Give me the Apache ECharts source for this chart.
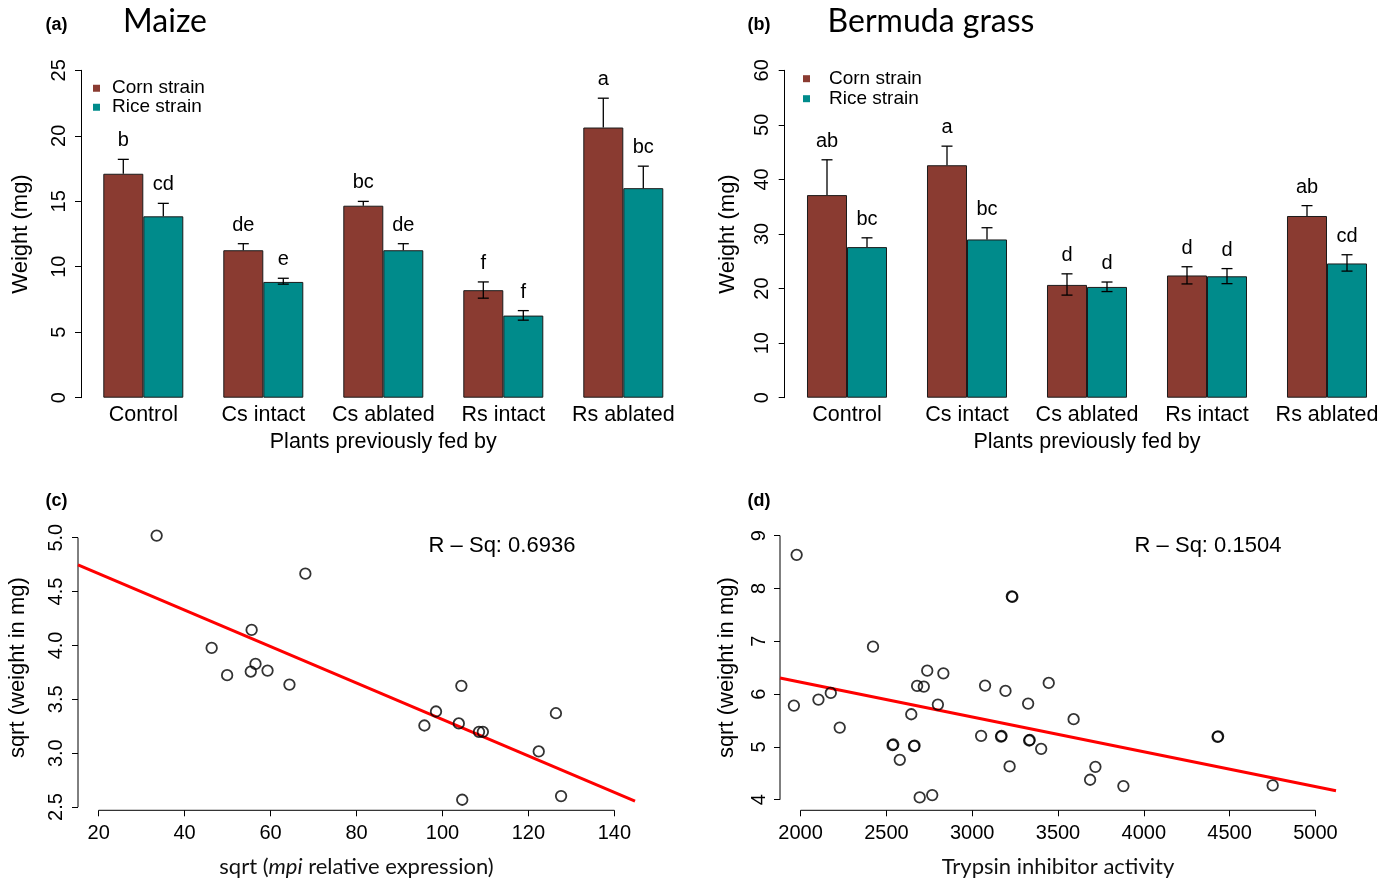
<!DOCTYPE html>
<html><head><meta charset="utf-8">
<script src="https://cdn.jsdelivr.net/npm/echarts@6/dist/echarts.min.js"></script>
<style>html,body{margin:0;padding:0;background:#fff}#c{width:1397px;height:880px}</style>
</head><body><div id="c"></div>
<script>
// ---------- data ----------
const categories = ['Control', 'Cs intact', 'Cs ablated', 'Rs intact', 'Rs ablated'];
const strainNames = ['Corn strain', 'Rice strain'];

// (a) Maize
const maizeCorn = [17.1, 11.26, 14.66, 8.21, 20.63];
const maizeRice = [13.85, 8.84, 11.26, 6.27, 16.0];
const maizeCornUpper = [18.2, 11.76, 14.99, 8.84, 22.87];
const maizeRiceUpper = [14.84, 9.12, 11.76, 6.65, 17.68];
const maizeCornLower = [null, null, null, 7.6, null];
const maizeRiceLower = [null, 8.67, null, 5.92, null];
const maizeCornLetters = ['b', 'de', 'bc', 'f', 'a'];
const maizeRiceLetters = ['cd', 'e', 'de', 'f', 'bc'];

// (b) Bermuda grass
const bermudaCorn = [37.13, 42.6, 20.67, 22.4, 33.3];
const bermudaRice = [27.6, 29.0, 20.3, 22.25, 24.6];
const bermudaCornUpper = [43.6, 46.1, 22.7, 24.0, 35.2];
const bermudaRiceUpper = [29.3, 31.15, 21.2, 23.66, 26.2];
const bermudaCornLower = [null, null, 18.8, 20.85, null];
const bermudaRiceLower = [null, null, 19.45, 20.9, 23.2];
const bermudaCornLetters = ['ab', 'a', 'd', 'd', 'ab'];
const bermudaRiceLetters = ['bc', 'bc', 'd', 'd', 'cd'];

// (c) sqrt(mpi relative expression) vs sqrt(weight)
const mpiX = [33.5, 68.1, 55.6, 46.3, 49.9, 55.4, 56.5, 59.3, 64.4, 104.4, 98.5, 95.8, 103.8, 108.5, 109.4, 122.4, 126.4, 104.6, 127.6];
const mpiY = [5.02, 4.666, 4.144, 3.977, 3.724, 3.758, 3.829, 3.767, 3.637, 3.625, 3.387, 3.257, 3.276, 3.198, 3.198, 3.016, 3.371, 2.568, 2.602];
const mpiFitIntercept = 5.006;
const mpiFitSlope = -0.01693;
const mpiRsq = 'R \u2013 Sq: 0.6936';
const mpiXTicks = [20, 40, 60, 80, 100, 120, 140];
const mpiYTicks = [2.5, 3.0, 3.5, 4.0, 4.5, 5.0];

// (d) Trypsin inhibitor activity vs sqrt(weight)
const trypsinX = [1977, 1961, 2104, 2176, 2228, 2422, 2536, 2540, 2578, 2645, 2661, 2664, 2679, 2718, 2738, 2832, 2800, 2694, 2767, 3052, 3075, 3168, 3171, 3194, 3218, 3231, 3234, 3326, 3332, 3335, 3402, 3446, 3591, 3687, 3718, 3881, 4430, 4433, 4751];
const trypsinY = [8.635, 5.782, 5.895, 6.021, 5.366, 6.897, 5.033, 5.045, 4.756, 5.618, 5.014, 5.025, 6.154, 6.141, 6.443, 6.393, 5.801, 4.044, 4.088, 5.209, 6.16, 5.196, 5.206, 6.059, 4.63, 7.848, 7.838, 5.82, 5.121, 5.131, 4.963, 6.21, 5.524, 4.378, 4.623, 4.258, 5.19, 5.2, 4.271];
const trypsinFitIntercept = 7.543;
const trypsinFitSlope = -0.0006586;
const trypsinRsq = 'R \u2013 Sq: 0.1504';
const trypsinXTicks = [2000, 2500, 3000, 3500, 4000, 4500, 5000];
const trypsinYTicks = [4, 5, 6, 7, 8, 9];

// ---------- styling ----------
const RF = '"Liberation Sans", Arial, Helvetica, sans-serif';
const CF = 'Lato, "Open Sans", sans-serif';
const CORN = '#8A3B31';
const RICE = '#008B8B';

// axis ranges (R style 4% extension)
const cX = [15.2, 144.8], cY = [2.47, 5.118];
const dX = [1880, 5120], dY = [3.8, 9.2];

function barYAxis(gi, max, interval, nameGap) {
  return {
    gridIndex: gi, type: 'value', min: 0, max: max, interval: interval, offset: 2.3,
    axisLine: { show: true, lineStyle: { color: '#000', width: 1 } },
    axisTick: { show: true, length: 6, lineStyle: { color: '#000', width: 1 } },
    axisLabel: { rotate: 90, fontSize: 20, margin: 12, color: '#000', fontFamily: RF },
    splitLine: { show: false },
    name: 'Weight (mg)', nameLocation: 'middle', nameGap: nameGap,
    nameTextStyle: { fontSize: 22, color: '#000', fontFamily: RF }
  };
}
function barXAxis(gi) {
  return {
    gridIndex: gi, type: 'category', data: categories,
    axisLine: { show: false }, axisTick: { show: false },
    axisLabel: { fontSize: 21.5, color: '#000', margin: 6, interval: 0, fontFamily: RF },
    name: 'Plants previously fed by', nameLocation: 'middle', nameGap: 33,
    nameTextStyle: { fontSize: 21.5, color: '#000', fontFamily: RF }
  };
}
function barSeries(gi, name, data, color) {
  return {
    type: 'bar', name: name, xAxisIndex: gi, yAxisIndex: gi, data: data,
    barGap: '0%', barCategoryGap: '33.333%', silent: true,
    itemStyle: { color: color, borderColor: '#1b1b1b', borderWidth: 1 }
  };
}
function errSeries(gi, values, upper, lower, letters, side) {
  return {
    type: 'custom', xAxisIndex: gi, yAxisIndex: gi, silent: true, z: 10,
    data: upper.map((u, i) => [i, u]),
    renderItem: function (params, api) {
      const i = params.dataIndex;
      const band = api.size([1, 0])[0];
      const cx = api.coord([i, 0])[0] + side * band / 6;
      const yHi = api.coord([i, upper[i]])[1];
      const yBar = api.coord([i, values[i]])[1];
      const hasLo = lower[i] !== null;
      const yLo = hasLo ? api.coord([i, lower[i]])[1] : yBar;
      const cap = 5.5;
      const st = { stroke: '#000', lineWidth: 1.3 };
      const ch = [
        { type: 'line', shape: { x1: cx, y1: yHi, x2: cx, y2: yLo }, style: st },
        { type: 'line', shape: { x1: cx - cap, y1: yHi, x2: cx + cap, y2: yHi }, style: st },
        { type: 'text', style: { text: letters[i], x: cx, y: yHi - 18.5, textAlign: 'center', textVerticalAlign: 'middle', font: '20px ' + RF, fill: '#000' } }
      ];
      if (hasLo) ch.push({ type: 'line', shape: { x1: cx - cap, y1: yLo, x2: cx + cap, y2: yLo }, style: st });
      return { type: 'group', children: ch };
    }
  };
}
function scatterXAxis(gi, range, ticks, name, gap) {
  return {
    gridIndex: gi, type: 'value', min: range[0], max: range[1],
    axisLine: { show: false },
    axisTick: { show: true, customValues: ticks, length: 6, lineStyle: { color: '#000', width: 1 } },
    axisLabel: { customValues: ticks, fontSize: 20, margin: 13, color: '#000', fontFamily: RF, formatter: v => String(v) },
    splitLine: { show: false },
    name: name, nameLocation: 'middle', nameGap: gap,
    nameTextStyle: { fontSize: 22, color: '#111', fontFamily: CF, rich: { n: { fontSize: 22, fontFamily: CF, color: '#111' }, i: { fontSize: 22, fontFamily: CF, fontStyle: 'italic', color: '#111' } } }
  };
}
function scatterYAxis(gi, range, ticks, digits, gap, margin) {
  return {
    gridIndex: gi, type: 'value', min: range[0], max: range[1],
    axisLine: { show: false },
    axisTick: { show: true, customValues: ticks, length: 6, lineStyle: { color: '#000', width: 1 } },
    axisLabel: { customValues: ticks, rotate: 90, fontSize: 20, margin: margin, color: '#000', fontFamily: RF, formatter: v => Number(v).toFixed(digits) },
    splitLine: { show: false },
    name: 'sqrt (weight in mg)', nameLocation: 'middle', nameGap: gap,
    nameTextStyle: { fontSize: 22, color: '#000', fontFamily: RF }
  };
}
function axisLineSeries(gi, pts) {
  return { type: 'line', xAxisIndex: gi, yAxisIndex: gi, data: pts, symbol: 'none', silent: true, clip: false,
    lineStyle: { color: '#000', width: 1 }, z: 3 };
}
function fitSeries(gi, range, a, b) {
  return { type: 'line', xAxisIndex: gi, yAxisIndex: gi, symbol: 'none', silent: true, clip: true, z: 4,
    data: [[range[0], a + b * range[0]], [range[1], a + b * range[1]]],
    lineStyle: { color: '#FF0000', width: 3 } };
}
function pointSeries(gi, xs, ys) {
  return { type: 'scatter', xAxisIndex: gi, yAxisIndex: gi, silent: true, z: 5,
    data: xs.map((x, i) => [x, ys[i]]), symbol: 'circle', symbolSize: 10.5,
    itemStyle: { color: 'rgba(0,0,0,0)', borderColor: '#000', borderWidth: 1.8 } };
}
function txt(x, y, t, font) {
  return { type: 'text', x: x, y: y, style: { text: t, font: font, fill: '#000', textAlign: 'center', textVerticalAlign: 'middle' } };
}

const chart = echarts.init(document.getElementById('c'), null, { renderer: 'canvas' });
const legendBase = { orient: 'vertical', padding: 0, itemGap: 0, icon: 'rect', itemWidth: 7, itemHeight: 7,
  data: strainNames, selectedMode: false, itemStyle: { borderWidth: 0 } };
const option = {
  backgroundColor: '#fff',
  animation: false,
  grid: [
    { left: 83.3, top: 70.3, width: 600, height: 327.4 },
    { left: 787, top: 70.3, width: 600, height: 327.4 },
    { left: 78, top: 525, width: 557, height: 285.3 },
    { left: 780, top: 525, width: 556, height: 285.3 }
  ],
  legend: [
    Object.assign({}, legendBase, { left: 93, top: 78.75,
      textStyle: { fontSize: 19, lineHeight: 17.5, color: '#000', fontFamily: RF, padding: [0, 0, 0, 7] } }),
    Object.assign({}, legendBase, { left: 803, top: 68.7,
      textStyle: { fontSize: 19, lineHeight: 20, color: '#000', fontFamily: RF, padding: [0, 0, 0, 14] } })
  ],
  xAxis: [
    barXAxis(0), barXAxis(1),
    scatterXAxis(2, cX, mpiXTicks, '{n|sqrt (}{i|mpi}{n| relative expression)}', 46),
    scatterXAxis(3, dX, trypsinXTicks, 'Trypsin inhibitor activity', 46)
  ],
  yAxis: [
    barYAxis(0, 25, 5, 49), barYAxis(1, 60, 10, 46),
    scatterYAxis(2, cY, mpiYTicks, 1, 49, 12),
    scatterYAxis(3, dY, trypsinYTicks, 0, 42, 11)
  ],
  series: [
    barSeries(0, strainNames[0], maizeCorn, CORN),
    barSeries(0, strainNames[1], maizeRice, RICE),
    errSeries(0, maizeCorn, maizeCornUpper, maizeCornLower, maizeCornLetters, -1),
    errSeries(0, maizeRice, maizeRiceUpper, maizeRiceLower, maizeRiceLetters, 1),
    barSeries(1, strainNames[0], bermudaCorn, CORN),
    barSeries(1, strainNames[1], bermudaRice, RICE),
    errSeries(1, bermudaCorn, bermudaCornUpper, bermudaCornLower, bermudaCornLetters, -1),
    errSeries(1, bermudaRice, bermudaRiceUpper, bermudaRiceLower, bermudaRiceLetters, 1),
    axisLineSeries(2, [[mpiXTicks[0], cY[0]], [mpiXTicks[mpiXTicks.length - 1], cY[0]]]),
    axisLineSeries(2, [[cX[0], mpiYTicks[0]], [cX[0], mpiYTicks[mpiYTicks.length - 1]]]),
    fitSeries(2, cX, mpiFitIntercept, mpiFitSlope),
    pointSeries(2, mpiX, mpiY),
    axisLineSeries(3, [[trypsinXTicks[0], dY[0]], [trypsinXTicks[trypsinXTicks.length - 1], dY[0]]]),
    axisLineSeries(3, [[dX[0], trypsinYTicks[0]], [dX[0], trypsinYTicks[trypsinYTicks.length - 1]]]),
    fitSeries(3, dX, trypsinFitIntercept, trypsinFitSlope),
    pointSeries(3, trypsinX, trypsinY)
  ],
  graphic: [
    txt(56.5, 25, '(a)', 'bold 18px ' + RF),
    txt(165, 22, 'Maize', '32px ' + CF),
    txt(759, 25, '(b)', 'bold 18px ' + RF),
    txt(931, 22, 'Bermuda grass', '32px ' + CF),
    txt(56.5, 501, '(c)', 'bold 18px ' + RF),
    txt(759, 501, '(d)', 'bold 18px ' + RF),
    txt(502, 546, mpiRsq, '22px ' + RF),
    txt(1208, 546, trypsinRsq, '22px ' + RF)
  ]
};
chart.setOption(option);
</script>
</body></html>
